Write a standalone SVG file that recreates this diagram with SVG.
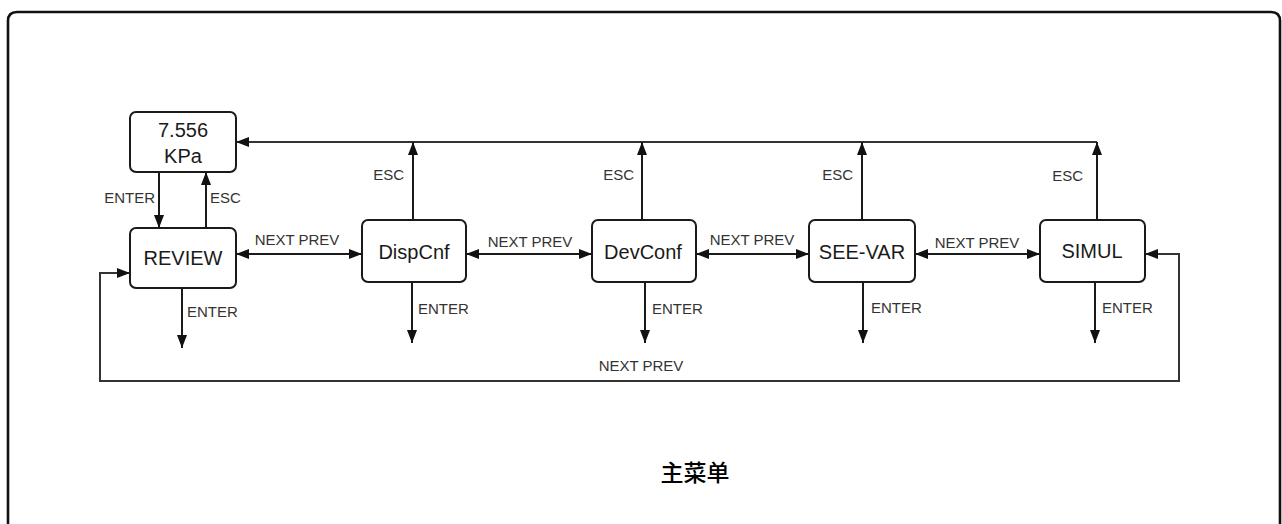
<svg xmlns="http://www.w3.org/2000/svg" width="1282" height="524" viewBox="0 0 1282 524">
<style>
.box{fill:#fff;stroke:#1a1a1a;stroke-width:2}
.nl{font-family:"Liberation Sans",Arial,sans-serif;font-size:20px;fill:#1a1a1a;text-anchor:middle}
.el{font-family:"Liberation Sans",Arial,sans-serif;font-size:15px;fill:#333}
.c{fill:none;stroke:#1a1a1a;stroke-width:2}
.cl{fill:none;stroke:#333;stroke-width:2}
</style>
<defs>
<marker id="arr" viewBox="0 0 13 10" refX="13" refY="5" markerWidth="13" markerHeight="10" markerUnits="userSpaceOnUse" orient="auto-start-reverse">
<path d="M0,0 L13,5 L0,10 z" fill="#111"/>
</marker>
</defs>
<rect width="1282" height="524" fill="#fff"/>
<path d="M8,530 V21 Q8,12 17,12 H1271 Q1280,12 1280,21 V530" fill="none" stroke="#111" stroke-width="2.6"/>

<g id="connectors">
<path class="c" d="M159,172 V228" marker-end="url(#arr)"/>
<path class="c" d="M206,228 V172" marker-end="url(#arr)"/>
<path class="c" d="M236,254 H362" marker-start="url(#arr)" marker-end="url(#arr)"/>
<path class="c" d="M466,254 H592" marker-start="url(#arr)" marker-end="url(#arr)"/>
<path class="c" d="M696,254 H809" marker-start="url(#arr)" marker-end="url(#arr)"/>
<path class="c" d="M915,254 H1040" marker-start="url(#arr)" marker-end="url(#arr)"/>
<path class="cl" d="M1097,142 H236" marker-end="url(#arr)"/>
<path class="c" d="M413,220 V142" marker-end="url(#arr)"/>
<path class="c" d="M642,220 V142" marker-end="url(#arr)"/>
<path class="c" d="M862,220 V142" marker-end="url(#arr)"/>
<path class="c" d="M1097,220 V142" marker-end="url(#arr)"/>
<path class="c" d="M182,288 V348" marker-end="url(#arr)"/>
<path class="c" d="M412,282 V343" marker-end="url(#arr)"/>
<path class="c" d="M645,282 V343" marker-end="url(#arr)"/>
<path class="c" d="M863,282 V343" marker-end="url(#arr)"/>
<path class="c" d="M1095,282 V343" marker-end="url(#arr)"/>
<path class="cl" d="M130,273 H100 V381 H1179 V254 H1145" marker-start="url(#arr)" marker-end="url(#arr)"/>

<text class="el" x="155" y="203" text-anchor="end">ENTER</text>
<text class="el" x="210" y="203">ESC</text>
<text class="el" x="187" y="317">ENTER</text>
<text class="el" x="297" y="245" text-anchor="middle">NEXT PREV</text>
<text class="el" x="530" y="247" text-anchor="middle">NEXT PREV</text>
<text class="el" x="752" y="245" text-anchor="middle">NEXT PREV</text>
<text class="el" x="977" y="248" text-anchor="middle">NEXT PREV</text>
<text class="el" x="641" y="371" text-anchor="middle">NEXT PREV</text>
<text class="el" x="404" y="180" text-anchor="end">ESC</text>
<text class="el" x="634" y="180" text-anchor="end">ESC</text>
<text class="el" x="853" y="180" text-anchor="end">ESC</text>
<text class="el" x="1083" y="181" text-anchor="end">ESC</text>
<text class="el" x="418" y="314">ENTER</text>
<text class="el" x="652" y="314">ENTER</text>
<text class="el" x="871" y="313">ENTER</text>
<text class="el" x="1102" y="313">ENTER</text>
</g>

<g id="kpa">
<rect class="box" x="130" y="112" width="106" height="60" rx="6"/>
<text class="nl" x="183" y="137">7.556</text>
<text class="nl" x="183" y="163">KPa</text>
</g>
<g id="review">
<rect class="box" x="130" y="228" width="106" height="60" rx="6"/>
<text class="nl" x="183" y="265">REVIEW</text>
</g>
<g id="dispcnf">
<rect class="box" x="362" y="220" width="104" height="62" rx="6"/>
<text class="nl" x="414" y="259">DispCnf</text>
</g>
<g id="devconf">
<rect class="box" x="592" y="220" width="104" height="62" rx="6"/>
<text class="nl" x="643" y="259">DevConf</text>
</g>
<g id="seevar">
<rect class="box" x="809" y="220" width="106" height="62" rx="6"/>
<text class="nl" x="862" y="259">SEE-VAR</text>
</g>
<g id="simul">
<rect class="box" x="1040" y="220" width="105" height="62" rx="6"/>
<text class="nl" x="1092" y="258">SIMUL</text>
</g>
<g id="title">
<text x="695" y="481" font-family="'Noto Sans CJK SC',sans-serif" font-size="23" font-weight="500" fill="#000" text-anchor="middle">主菜单</text>
</g>
</svg>
